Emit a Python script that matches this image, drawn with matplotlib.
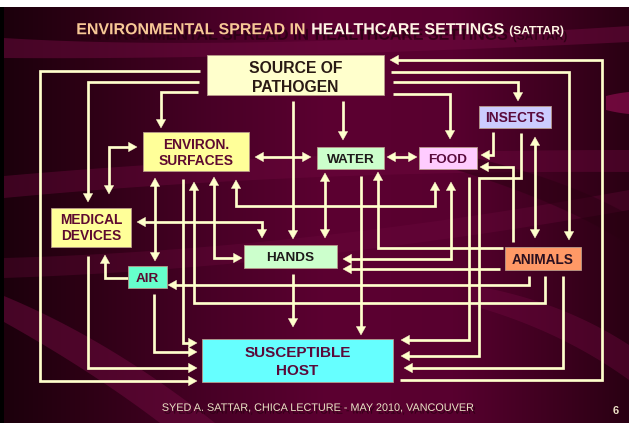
import numpy as np
import matplotlib
matplotlib.use("Agg")
import matplotlib.pyplot as plt
import matplotlib.patheffects as pe
from matplotlib.colors import LinearSegmentedColormap
from matplotlib.patches import Rectangle, Polygon

W, H = 629, 423
FONT = "Liberation Sans"
LINE = "#ffffcc"

# ---------------------------------------------------------------------------
# Diagram content (slide pixel coordinates, y grows downward)
# ---------------------------------------------------------------------------
box_labels = [
    ["SOURCE OF", "PATHOGEN"],
    ["ENVIRON.", "SURFACES"],
    ["WATER"],
    ["FOOD"],
    ["INSECTS"],
    ["MEDICAL", "DEVICES"],
    ["HANDS"],
    ["AIR"],
    ["ANIMALS"],
    ["SUSCEPTIBLE", "HOST"],
]
box_extents = [
    (207, 55, 384, 95),
    (143, 132, 249, 171),
    (317, 147, 384, 169),
    (419, 147, 477, 169),
    (479, 106, 551, 128),
    (51, 208, 131, 247),
    (244, 245, 337, 268),
    (128, 266, 167, 288),
    (505, 247, 581, 270),
    (202, 339, 393, 382),
]
box_line_y = [
    [67, 86], [144, 160], [158], [158.5], [117],
    [219.5, 235.5], [256.3], [277], [258.8], [352, 370],
]
box_fills = ["#ffffcc", "#ffff99", "#ccffcc", "#ffccff", "#ccccff",
             "#ffff99", "#ccffcc", "#66ffcc", "#ff9966", "#66ffff"]
box_text_colors = ["#2a1a14", "#5e0a30", "#1e1a1a", "#5a0a3c", "#5a0a3c",
                   "#5e0a30", "#1e1a1a", "#5a0a30", "#2a1020", "#5a0a3a"]
box_font_sizes = [11.3, 9.9, 9.7, 9.7, 9.9, 9.9, 9.7, 9.7, 9.8, 11.0]

# connectors: waypoints, arrowheads ("end" or "both")
connectors = [
    ([(200, 71), (40, 71), (40, 381), (197, 381)], "end"),      # source -> host
    ([(199, 82), (88, 82), (88, 202)], "end"),                  # source -> medical
    ([(88, 256), (88, 368), (197, 368)], "end"),                # medical -> host
    ([(198, 92), (161, 92), (161, 128)], "end"),                # source -> environ
    ([(137, 147), (109, 147), (109, 194)], "both"),             # environ <-> medical
    ([(293, 101), (293, 239)], "end"),                          # source -> hands
    ([(343, 101), (343, 140)], "end"),                          # source -> water
    ([(393, 94), (450, 94), (450, 139)], "end"),                # source -> food
    ([(393, 82), (518, 82), (518, 101)], "end"),                # source -> insects
    ([(391, 72), (569, 72), (569, 240)], "end"),                # source -> animals
    ([(400, 380), (602, 380), (602, 60), (390, 60)], "end"),    # host -> source
    ([(255, 157), (311, 157)], "both"),                         # environ <-> water
    ([(387, 157), (417, 157)], "both"),                         # water <-> food
    ([(493, 132), (493, 155), (481, 155)], "end"),              # insects -> food
    ([(513, 242), (513, 167), (480, 167)], "end"),              # animals -> food
    ([(521, 133), (521, 178), (479, 178), (479, 356), (401, 356)], "end"),  # insects -> host
    ([(469, 177), (469, 340), (401, 340)], "end"),              # food -> host
    ([(563, 276), (563, 368), (404, 368)], "end"),              # animals -> host
    ([(155, 178), (155, 261)], "both"),                         # environ <-> air
    ([(183, 179), (183, 343), (197, 343)], "end"),              # environ -> host
    ([(545, 276), (545, 303), (194, 303), (194, 182)], "end"),  # animals -> environ
    ([(214, 177), (214, 258), (242, 258)], "both"),             # environ <-> hands
    ([(236, 180), (236, 206), (435, 206), (435, 182)], "both"), # environ <-> food
    ([(137, 222), (262, 222), (262, 238)], "both"),             # medical <-> hands
    ([(128, 278), (105, 278), (105, 255)], "end"),              # air -> medical
    ([(529, 276), (529, 285), (168, 285)], "end"),              # animals -> air
    ([(154, 294), (154, 352), (197, 352)], "end"),              # air -> host
    ([(293, 274), (293, 327)], "end"),                          # hands -> host
    ([(361, 176), (361, 335)], "end"),                          # water -> host
    ([(325, 173), (325, 238)], "both"),                         # water <-> hands
    ([(503, 248), (378, 248), (378, 172)], "end"),              # animals -> water
    ([(451, 182), (451, 259), (343, 259)], "both"),             # food <-> hands
    ([(500, 269), (343, 269)], "end"),                          # animals -> hands
    ([(535, 137), (535, 238)], "both"),                         # insects <-> animals
]

title_parts = [
    ("ENVIRONMENTAL SPREAD IN", "#f7c896", 11.5),
    ("HEALTHCARE SETTINGS", "#fff4e4", 11.5),
    ("(SATTAR)", "#fff4e4", 8.6),
]
footer_text = "SYED A. SATTAR, CHICA LECTURE - MAY 2010, VANCOUVER"
page_number = "6"

shadow = [pe.withSimplePatchShadow(offset=(2.5, -4), shadow_rgbFace="#24000f", alpha=0.75)]
small_shadow = [pe.withSimplePatchShadow(offset=(1.5, -2), shadow_rgbFace="#24000f", alpha=0.75)]


def baseline(cy, size):
    # centre of capitals -> baseline position
    return cy + 0.716 * size * 100 / 72 / 2


def arrowhead(ax, p0, p1, hl=8.5, hw=4.7):
    d = np.array(p1, float) - np.array(p0, float)
    d /= np.hypot(*d)
    n = np.array([-d[1], d[0]])
    tip = np.array(p1, float)
    base = tip - d * hl
    ax.add_patch(Polygon([tip, base + n * hw, base - n * hw], closed=True,
                         facecolor=LINE, edgecolor=LINE, lw=0.3, zorder=4))


def draw_connector(ax, pts, heads):
    pts = [np.array(p, float) for p in pts]
    line = [p.copy() for p in pts]
    d = line[-1] - line[-2]
    line[-1] = line[-1] - d / np.hypot(*d) * 5
    if heads == "both":
        d = line[0] - line[1]
        line[0] = line[0] - d / np.hypot(*d) * 5
    xs, ys = zip(*line)
    ax.plot(xs, ys, color=LINE, lw=1.95, solid_joinstyle="miter",
            solid_capstyle="butt", zorder=3)
    arrowhead(ax, pts[-2], pts[-1])
    if heads == "both":
        arrowhead(ax, pts[1], pts[0])


def band(ax, top, bottom, color="#700a40", alpha=0.55):
    t = np.linspace(0, 1, 60)[:, None]

    def bez(p):
        p = np.array(p, float)
        return (1 - t) ** 2 * p[0] + 2 * (1 - t) * t * p[1] + t ** 2 * p[2]

    poly = np.vstack([bez(top), bez(bottom)[::-1]])
    ax.add_patch(Polygon(poly, closed=True, facecolor=color, edgecolor="none",
                         alpha=alpha, zorder=1))


fig = plt.figure(figsize=(W / 100, H / 100), dpi=100)
ax = fig.add_axes([0, 0, 1, 1])
ax.set_xlim(0, W)
ax.set_ylim(H, 0)
ax.axis("off")
fig.patch.set_facecolor("white")

# background
cmap = LinearSegmentedColormap.from_list("slide", [
    (0.0, "#1c000c"), (0.12, "#2c0014"), (0.33, "#480026"), (0.52, "#5c0031"),
    (0.72, "#58002f"), (0.88, "#3e001f"), (1.0, "#2a0013")])
ax.imshow(np.linspace(0, 1, 256)[None, :], cmap=cmap, aspect="auto",
          extent=(4, W, H, 7), zorder=0)
ax.add_patch(Rectangle((0, 7), 4, H, facecolor="black", edgecolor="none", zorder=0))

band(ax, [(4, 38), (230, 52), (629, 26)], [(4, 58), (260, 60), (629, 42)], alpha=0.5)
band(ax, [(4, 176), (300, 150), (629, 150)], [(4, 198), (300, 170), (629, 172)], alpha=0.4)
band(ax, [(4, 258), (300, 250), (629, 190)], [(4, 278), (300, 268), (629, 210)], alpha=0.3)
band(ax, [(4, 296), (110, 340), (215, 423)], [(4, 322), (90, 370), (160, 423)], alpha=0.5)
band(ax, [(470, 285), (560, 300), (629, 345)], [(470, 305), (560, 330), (629, 380)], alpha=0.4)
band(ax, [(440, 150), (560, 175), (629, 215)], [(440, 165), (560, 200), (629, 245)],
     color="#2a0012", alpha=0.5)
band(ax, [(606, 96), (618, 93), (629, 92)], [(606, 110), (618, 113), (629, 114)],
     color="#9a0e56", alpha=0.6)

# connectors
for pts, heads in connectors:
    draw_connector(ax, pts, heads)

# boxes
for lines, (x0, y0, x1, y1), ys, fill, tc, fs in zip(
        box_labels, box_extents, box_line_y, box_fills, box_text_colors, box_font_sizes):
    ax.add_patch(Rectangle((x0, y0), x1 - x0, y1 - y0, facecolor=fill,
                           edgecolor="#b89a8a", lw=0.6, zorder=5))
    for txt, cy in zip(lines, ys):
        ax.text((x0 + x1) / 2, baseline(cy, fs), txt, ha="center", va="baseline",
                fontsize=fs, fontweight="bold", family=FONT, color=tc, zorder=6)

# title (three coloured pieces)
fig.canvas.draw()
r = fig.canvas.get_renderer()
widths = []
for txt, col, fs in title_parts:
    t = ax.text(0, 0, txt, fontsize=fs, fontweight="bold", family=FONT)
    widths.append(t.get_window_extent(r).width)
    t.remove()
gap = 0.278 * 11.5 * 100 / 72
x = 320 - (sum(widths) + gap * (len(widths) - 1)) / 2
for (txt, col, fs), w in zip(title_parts, widths):
    ax.text(x, baseline(28.5, 11.5), txt, ha="left", va="baseline", fontsize=fs,
            fontweight="bold", family=FONT, color=col, zorder=7, path_effects=shadow)
    x += w + gap

# footer
ax.text(318, baseline(407, 7.8), footer_text, ha="center", va="baseline",
        fontsize=7.8, family=FONT, color="#ece2c6", zorder=7, path_effects=small_shadow)
ax.text(615.5, baseline(410, 8), page_number, ha="center", va="baseline",
        fontsize=8, fontweight="bold", family=FONT, color="#ece2c6", zorder=7)

fig.savefig("out.png", dpi=100)
plt.close(fig)
